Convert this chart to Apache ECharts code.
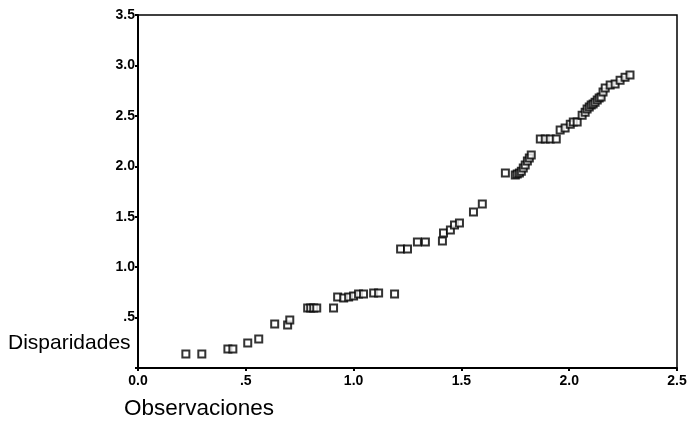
<!DOCTYPE html>
<html><head><meta charset="utf-8">
<script src="https://cdn.jsdelivr.net/npm/echarts@6/dist/echarts.min.js"></script>
<style>html,body{margin:0;padding:0;background:#fff}#c{width:691px;height:428px}</style>
</head><body><div id="c"></div>
<script>
const observaciones = [0.222,0.296,0.417,0.440,0.509,0.560,0.634,0.694,0.704,0.787,0.801,0.815,0.829,0.907,0.926,0.954,0.977,1.000,1.023,1.046,1.093,1.116,1.190,1.218,1.250,1.296,1.333,1.412,1.417,1.449,1.468,1.491,1.556,1.597,1.704,1.750,1.759,1.769,1.778,1.787,1.796,1.806,1.815,1.824,1.866,1.889,1.912,1.940,1.958,1.981,2.005,2.019,2.037,2.060,2.074,2.083,2.093,2.102,2.111,2.120,2.130,2.139,2.148,2.157,2.167,2.190,2.213,2.236,2.259,2.282];
const disparidades = [0.139,0.139,0.188,0.188,0.248,0.287,0.436,0.426,0.476,0.595,0.595,0.595,0.595,0.595,0.704,0.694,0.704,0.714,0.733,0.733,0.743,0.743,0.733,1.179,1.179,1.249,1.249,1.259,1.338,1.368,1.417,1.437,1.546,1.625,1.933,1.913,1.923,1.933,1.952,1.982,2.012,2.052,2.081,2.111,2.270,2.270,2.270,2.270,2.359,2.379,2.418,2.438,2.438,2.507,2.537,2.567,2.587,2.607,2.617,2.636,2.656,2.676,2.686,2.736,2.775,2.805,2.815,2.854,2.884,2.904];
const xTickLabels = {"0":"0.0","0.5":".5","1":"1.0","1.5":"1.5","2":"2.0","2.5":"2.5"};
const yTickLabels = {"0":"","0.5":".5","1":"1.0","1.5":"1.5","2":"2.0","2.5":"2.5","3":"3.0","3.5":"3.5"};
const xName = "Observaciones", yName = "Disparidades";

const pts = observaciones.map((x,i)=>[x, disparidades[i]]);
const chart = echarts.init(document.getElementById('c'));
const lbl = {color:'#000', fontFamily:'Liberation Sans, Arial, sans-serif', fontSize:14, fontWeight:'bold'};
chart.setOption({
  animation:false,
  grid:{left:138, right:14, top:15, bottom:60, show:true, borderColor:'#000', borderWidth:1.5, containLabel:false},
  xAxis:{type:'value', min:0, max:2.5, interval:0.5,
    axisLine:{lineStyle:{color:'#000', width:2}},
    axisTick:{show:true, inside:false, length:3, lineStyle:{color:'#000', width:2}},
    splitLine:{show:false},
    axisLabel:Object.assign({margin:6, formatter:v=>xTickLabels[String(v)] ?? ''}, lbl)},
  yAxis:{type:'value', min:0, max:3.5, interval:0.5,
    axisLine:{lineStyle:{color:'#000', width:2}},
    axisTick:{show:true, length:3, lineStyle:{color:'#000', width:2}},
    splitLine:{show:false},
    axisLabel:Object.assign({margin:3, formatter:v=>yTickLabels[String(v)] ?? ''}, lbl)},
  graphic:[
    {type:'text', left:8, top:333, style:{text:yName, font:'21px Liberation Sans, Arial, sans-serif', fill:'#000'}},
    {type:'text', left:124, top:397, style:{text:xName, font:'22.5px Liberation Sans, Arial, sans-serif', fill:'#000'}}
  ],
  series:[{type:'scatter', data:pts, symbol:'rect', symbolSize:7,
    itemStyle:{color:'#fff', borderColor:'#000', borderWidth:2}}]
});
</script></body></html>
